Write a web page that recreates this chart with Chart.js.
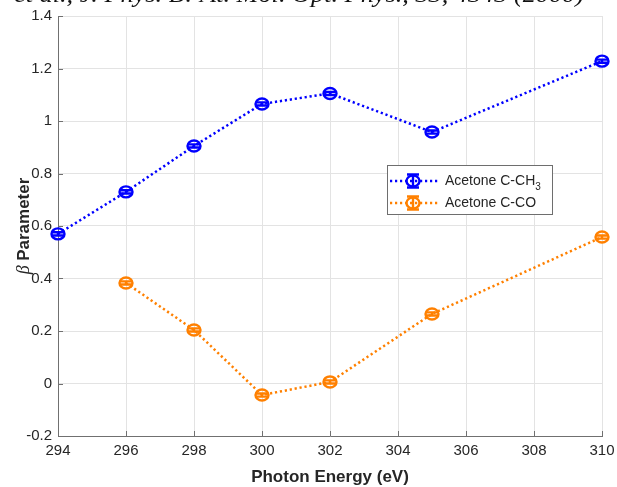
<!DOCTYPE html>
<html>
<head>
<meta charset="utf-8">
<script src="https://cdn.jsdelivr.net/npm/chart.js@4/dist/chart.umd.min.js"></script>
<style>
  html, body { margin: 0; padding: 0; background: #fff; }
  #wrap { width: 617px; height: 487px; position: relative; }
</style>
</head>
<body>
<div id="wrap"><canvas id="c" width="617" height="487"></canvas></div>
<script>
// Photon energies (eV) and beta parameters for the two acetone C 1s sites
const energyCH3 = [294, 296, 298, 300, 302, 305, 310];
const betaCH3   = [0.57, 0.73, 0.905, 1.065, 1.105, 0.958, 1.228];
const errCH3    = [0.006, 0.006, 0.006, 0.006, 0.006, 0.006, 0.006];

const energyCO  = [296, 298, 300, 302, 305, 310];
const betaCO    = [0.383, 0.204, -0.044, 0.006, 0.265, 0.558];
const errCO     = [0.006, 0.006, 0.006, 0.006, 0.006, 0.006];

const xTicks = [294, 296, 298, 300, 302, 304, 306, 308, 310];
const yTicks = [-0.2, 0, 0.2, 0.4, 0.6, 0.8, 1, 1.2, 1.4];
const yTickLabels = ['-0.2', '0', '0.2', '0.4', '0.6', '0.8', '1', '1.2', '1.4'];

const seriesNames = ['Acetone C-CH', 'Acetone C-CO'];
const seriesSubs  = ['3', ''];
const headerText = 'et al., J. Phys. B: At. Mol. Opt. Phys., 33, 4343 (2000)';

const BLUE = '#0000ff';
const ORANGE = '#ff8000';
const AXIS = '#707070';
const TEXT = '#262626';
const FONT = '"Liberation Sans", Arial, sans-serif';

function pts(xs, ys) { return xs.map((x, i) => ({ x: x, y: ys[i] })); }

// Open circle marker with small vertical error bar and caps
function drawMarker(ctx, x, y, yTop, yBot, color) {
  ctx.save();
  ctx.strokeStyle = color;
  ctx.lineWidth = 2.4;
  ctx.setLineDash([]);
  ctx.beginPath();
  ctx.moveTo(x, yTop); ctx.lineTo(x, yBot);
  ctx.moveTo(x - 6, yTop); ctx.lineTo(x + 6, yTop);
  ctx.moveTo(x - 6, yBot); ctx.lineTo(x + 6, yBot);
  ctx.stroke();
  ctx.beginPath();
  ctx.ellipse(x, y, 6.5, 5.5, 0, 0, Math.PI * 2);
  ctx.stroke();
  ctx.restore();
}

const decor = {
  id: 'decor',
  afterDatasetsDraw(chart) {
    const ctx = chart.ctx;
    const xs = chart.scales.x, ys = chart.scales.y;
    const ca = chart.chartArea;

    // error bars + markers
    const sets = [[energyCH3, betaCH3, errCH3, BLUE], [energyCO, betaCO, errCO, ORANGE]];
    sets.forEach(([ex, by, er, col]) => {
      ex.forEach((e, i) => {
        const px = xs.getPixelForValue(e);
        drawMarker(ctx, px, ys.getPixelForValue(by[i]),
          ys.getPixelForValue(by[i] + er[i]), ys.getPixelForValue(by[i] - er[i]), col);
      });
    });

    // inward tick marks
    ctx.save();
    ctx.strokeStyle = AXIS;
    ctx.lineWidth = 1;
    ctx.beginPath();
    yTicks.forEach(v => {
      const py = Math.round(ys.getPixelForValue(v)) + 0.5;
      ctx.moveTo(ca.left, py); ctx.lineTo(ca.left + 5, py);
    });
    xTicks.forEach(v => {
      const px = Math.round(xs.getPixelForValue(v)) + 0.5;
      ctx.moveTo(px, ca.bottom); ctx.lineTo(px, ca.bottom - 5);
    });
    ctx.stroke();
    ctx.restore();

    // legend
    ctx.save();
    const bx = 387.5, by0 = 165.5, bw = 165, bh = 49;
    ctx.fillStyle = '#fff';
    ctx.fillRect(bx, by0, bw, bh);
    ctx.strokeStyle = '#6e6e6e';
    ctx.lineWidth = 1;
    ctx.strokeRect(bx, by0, bw, bh);
    const rows = [[181, BLUE], [203, ORANGE]];
    rows.forEach(([ry, col], i) => {
      ctx.strokeStyle = col;
      ctx.lineWidth = 2.4;
      ctx.setLineDash([2.2, 2.8]);
      ctx.beginPath();
      ctx.moveTo(390, ry); ctx.lineTo(440, ry);
      ctx.stroke();
      ctx.setLineDash([]);
      drawMarker(ctx, 413, ry, ry - 6.5, ry + 6.5, col);
      ctx.fillStyle = TEXT;
      ctx.font = '14px ' + FONT;
      ctx.textBaseline = 'middle';
      ctx.textAlign = 'left';
      ctx.fillText(seriesNames[i], 445, ry);
      if (seriesSubs[i]) {
        const w = ctx.measureText(seriesNames[i]).width;
        ctx.font = '10px ' + FONT;
        ctx.fillText(seriesSubs[i], 445 + w, ry + 6);
      }
    });
    ctx.restore();

    // axis titles
    ctx.save();
    ctx.fillStyle = TEXT;
    ctx.textAlign = 'center';
    ctx.textBaseline = 'middle';
    ctx.font = 'bold 17px ' + FONT;
    ctx.fillText('Photon Energy (eV)', (ca.left + ca.right) / 2, 477);

    ctx.translate(24, (ca.top + ca.bottom) / 2);
    ctx.rotate(-Math.PI / 2);
    ctx.font = 'italic 18px "Liberation Serif", serif';
    const wb = ctx.measureText('\u03B2 ').width;
    ctx.font = 'bold 17px ' + FONT;
    const wp = ctx.measureText('Parameter').width;
    const start = -(wb + wp) / 2;
    ctx.textAlign = 'left';
    ctx.font = 'italic 18px "Liberation Serif", serif';
    ctx.fillText('\u03B2 ', start, 0);
    ctx.font = 'bold 17px ' + FONT;
    ctx.fillText('Parameter', start + wb, 0);
    ctx.restore();

    // citation line running off the top edge
    ctx.save();
    ctx.fillStyle = '#111';
    ctx.font = 'italic 24px "Liberation Serif", serif';
    ctx.textBaseline = 'alphabetic';
    ctx.textAlign = 'left';
    const tw = ctx.measureText(headerText).width;
    ctx.translate(14, 2);
    ctx.scale(570 / tw, 1);
    ctx.fillText(headerText, 0, 0);
    ctx.restore();
  }
};

new Chart(document.getElementById('c'), {
  type: 'line',
  data: {
    datasets: [
      { label: 'Acetone C-CH3', data: pts(energyCH3, betaCH3), borderColor: BLUE,
        borderWidth: 2.5, borderDash: [2.2, 2.8], pointRadius: 0, fill: false, tension: 0 },
      { label: 'Acetone C-CO', data: pts(energyCO, betaCO), borderColor: ORANGE,
        borderWidth: 2.5, borderDash: [2.2, 2.8], pointRadius: 0, fill: false, tension: 0 }
    ]
  },
  options: {
    responsive: false,
    animation: false,
    events: [],
    layout: { padding: { left: 0, right: 15, top: 16, bottom: 0 } },
    plugins: { legend: { display: false }, tooltip: { enabled: false }, title: { display: false } },
    scales: {
      x: {
        type: 'linear', min: 294, max: 310,
        afterBuildTicks: s => { s.ticks = xTicks.map(v => ({ value: v })); },
        afterFit: s => { s.height = 51; s.paddingLeft = 0; s.paddingRight = 0; },
        ticks: { color: TEXT, font: { size: 15, family: FONT }, padding: 6, maxRotation: 0,
                 callback: v => String(v) },
        grid: { color: '#e3e3e3', lineWidth: 1, drawTicks: false },
        border: { color: AXIS, width: 1 }
      },
      y: {
        type: 'linear', min: -0.2, max: 1.4,
        afterBuildTicks: s => { s.ticks = yTicks.map(v => ({ value: v })); },
        afterFit: s => { s.width = 58; s.paddingTop = 0; s.paddingBottom = 0; },
        ticks: { color: TEXT, font: { size: 15, family: FONT }, padding: 6,
                 callback: v => yTickLabels[yTicks.findIndex(t => Math.abs(t - v) < 1e-9)] },
        grid: { color: '#e3e3e3', lineWidth: 1, drawTicks: false },
        border: { color: AXIS, width: 1 }
      }
    }
  },
  plugins: [decor]
});
</script>
</body>
</html>
